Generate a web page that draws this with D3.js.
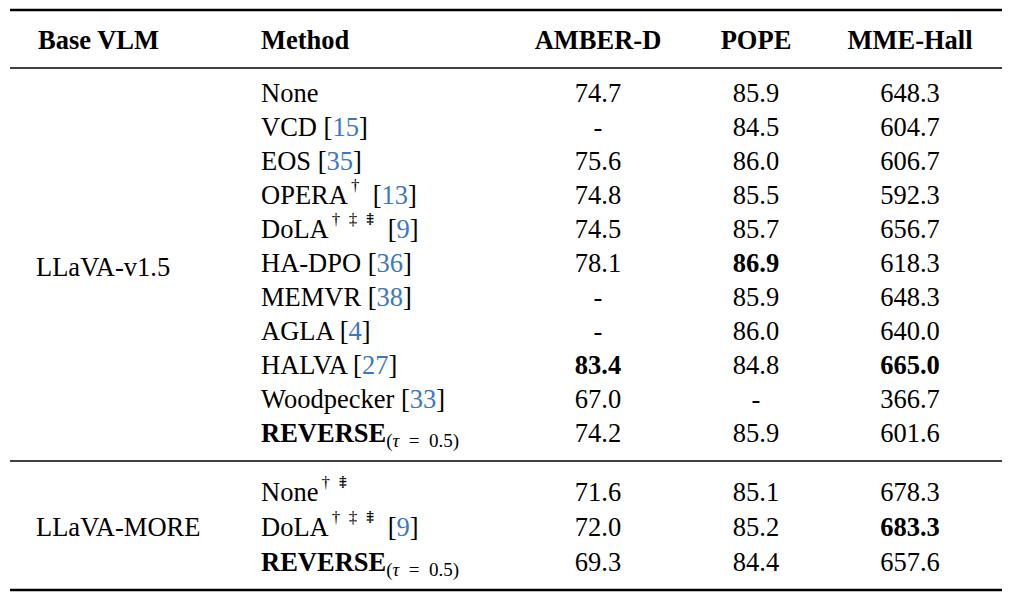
<!DOCTYPE html>
<html><head><meta charset="utf-8">
<script src="https://cdn.jsdelivr.net/npm/d3@7"></script>
<style>body{margin:0;background:#fff}</style></head>
<body><svg id="c" width="1018" height="606"></svg>
<script>
const headers = ["Base VLM","Method","AMBER-D","POPE","MME-Hall"];
const groups = ["LLaVA-v1.5","LLaVA-MORE"];
// method: [name, superscript, ref]
const methods1 = [["None","",""],["VCD","","15"],["EOS","","35"],["OPERA","†","13"],["DoLA","† ‡ ⹋","9"],["HA-DPO","","36"],["MEMVR","","38"],["AGLA","","4"],["HALVA","","27"],["Woodpecker","","33"],["REVERSE","",""]];
const amber1 = ["74.7","-","75.6","74.8","74.5","78.1","-","-","83.4","67.0","74.2"];
const pope1 = ["85.9","84.5","86.0","85.5","85.7","86.9","85.9","86.0","84.8","-","85.9"];
const mme1 = ["648.3","604.7","606.7","592.3","656.7","618.3","648.3","640.0","665.0","366.7","601.6"];
const methods2 = [["None","† ⹋",""],["DoLA","† ‡ ⹋","9"],["REVERSE","",""]];
const amber2 = ["71.6","72.0","69.3"];
const pope2 = ["85.1","85.2","84.4"];
const mme2 = ["678.3","683.3","657.6"];
const bold = {"1-amber-8":1,"1-pope-5":1,"1-mme-8":1,"2-mme-1":1};

const svg = d3.select("#c");
const F = "'Liberation Serif','Times New Roman',serif";
const FS = 26.5;
const x = d3.scaleOrdinal().domain(headers).range([38,261,598,756,910]);
const y1 = d3.scalePoint().domain(d3.range(11)).range([93,433]);
const y2 = d3.scalePoint().domain(d3.range(3)).range([492,562]);

function rule(yv,w){svg.append("line").attr("x1",10).attr("x2",1002).attr("y1",yv).attr("y2",yv).attr("stroke","#000").attr("stroke-width",w);}
rule(10,2.5); rule(68,1.3); rule(461,1.5); rule(590,2.5);

headers.forEach((h,i)=>svg.append("text").attr("x",x(h)).attr("y",40).attr("dominant-baseline","central")
  .attr("text-anchor",i<2?"start":"middle").attr("font-family",F).attr("font-size",FS).attr("font-weight","bold").text(h));

svg.append("text").attr("x",36).attr("y",267).attr("dominant-baseline","central").attr("font-family",F).attr("font-size",FS).text(groups[0]);
svg.append("text").attr("x",36).attr("y",527).attr("dominant-baseline","central").attr("font-family",F).attr("font-size",FS).text(groups[1]);

function block(g,methods,a,p,m,y){
  methods.forEach((mm,i)=>{
    const t = svg.append("text").attr("x",x("Method")).attr("y",y(i)).attr("dominant-baseline","central").attr("font-family",F).attr("font-size",FS).attr("xml:space","preserve");
    if(mm[0]==="REVERSE"){
      t.append("tspan").attr("font-weight","bold").text("REVERSE");
      t.append("tspan").attr("font-size",19).attr("dy",7).text("(");
      t.append("tspan").attr("font-size",19).attr("font-style","italic").text("τ");
      t.append("tspan").attr("font-size",19).text("\u2002=\u20020.5)");
    } else {
      t.append("tspan").text(mm[0]);
      if(mm[1]) t.append("tspan").attr("font-size",17).attr("dy",-10).attr("dx",3)
        .attr("font-family",F+",'DejaVu Sans','Noto Sans'").text(mm[1].split(" ").join("\u2002"));
      if(mm[2]){
        const dy = mm[1]?10:0;
        t.append("tspan").attr("dy",dy).text(mm[1]?"\u2002[":" [");
        t.append("tspan").attr("fill","#3b78c0").text(mm[2]);
        t.append("tspan").text("]");
      }
    }
    [["AMBER-D",a,"amber"],["POPE",p,"pope"],["MME-Hall",m,"mme"]].forEach(([h,arr,k])=>{
      svg.append("text").attr("x",x(h)).attr("y",y(i)).attr("dominant-baseline","central").attr("text-anchor","middle")
        .attr("font-family",F).attr("font-size",FS).attr("font-weight",bold[g+"-"+k+"-"+i]?"bold":"normal").text(arr[i]);
    });
  });
}
block(1,methods1,amber1,pope1,mme1,y1);
block(2,methods2,amber2,pope2,mme2,y2);
</script></body></html>
